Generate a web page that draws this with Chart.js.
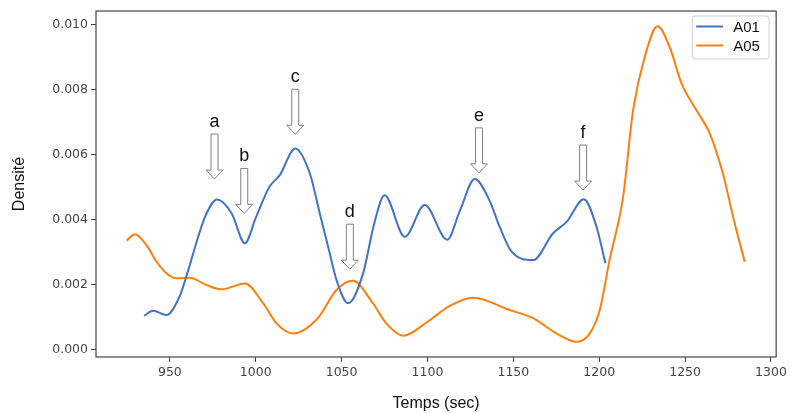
<!DOCTYPE html>
<html>
<head>
<meta charset="utf-8">
<script src="https://cdn.jsdelivr.net/npm/chart.js@4"></script>
<style>
  html, body { margin: 0; padding: 0; background: #fff; }
  #wrap { width: 790px; height: 413px; }
</style>
</head>
<body>
<div id="wrap"><canvas id="chart"></canvas></div>
<script>
// density curves (time in sec, density)
const a01Time = [935, 940.3, 948, 955.8, 960.7, 966.5, 971, 977.5, 986, 993.7, 1000, 1008, 1014, 1023, 1031.5, 1037.3,
  1043.1, 1047, 1053.8, 1062.5, 1069, 1075, 1086.8, 1098.4, 1111.5, 1119, 1127.5, 1136, 1142, 1149, 1161.5, 1173, 1181,
  1191, 1198.4, 1203.6];
const a01Dens = [0.00103, 0.00119, 0.00106, 0.00165, 0.00244, 0.00347, 0.00415, 0.00462, 0.00419, 0.00327, 0.00405,
  0.00501, 0.00537, 0.00619, 0.00542, 0.00419, 0.00296, 0.00214, 0.00142, 0.00234, 0.00388, 0.00475, 0.00347, 0.00445,
  0.00338, 0.00429, 0.00525, 0.0046, 0.00378, 0.00301, 0.00275, 0.00357, 0.00393, 0.00463, 0.00378, 0.00265];

const a05Time = [924.8, 929.6, 936.4, 942.3, 948.1, 953.9, 961.6, 971.4, 980.1, 993.7, 1004.3, 1012.1, 1021.8, 1036,
  1047, 1056.6, 1068.2, 1076, 1086, 1100, 1113, 1126.5, 1147.9, 1161.5, 1175, 1186.7, 1194.5, 1200.3, 1206, 1213.9,
  1219.7, 1226.5, 1233.9, 1241, 1247.9, 1256.6, 1264.3, 1272, 1277.9, 1284.7];
const a05Dens = [0.00335, 0.00355, 0.00321, 0.0027, 0.00234, 0.00219, 0.00221, 0.00198, 0.00185, 0.00203, 0.00142,
  0.0008, 0.00049, 0.00095, 0.00183, 0.00211, 0.00142, 0.0008, 0.00042, 0.00085, 0.00134, 0.00159, 0.00121, 0.00096,
  0.00049, 0.00023, 0.00049, 0.00121, 0.00275, 0.0047, 0.00737, 0.00902, 0.00996, 0.00932, 0.0082, 0.00737, 0.00666,
  0.00542, 0.00409, 0.0027];

const xTicks = [950, 1000, 1050, 1100, 1150, 1200, 1250, 1300];
const yTicks = [0, 0.002, 0.004, 0.006, 0.008, 0.010];

// arrow annotations: letter, time, density at arrow tip
const noteLabels = ['a', 'b', 'c', 'd', 'e', 'f'];
const noteTime = [976, 993.3, 1023, 1054.8, 1130, 1190.6];
const noteDens = [0.00525, 0.00419, 0.00663, 0.00247, 0.00544, 0.00491];

const pts = (xs, ys) => xs.map((x, i) => ({ x: x, y: ys[i] }));

// frame, hollow arrows and legend box
const extras = {
  id: 'extras',
  afterDatasetsDraw(chart) {
    const { ctx, chartArea: ca, scales } = chart;
    ctx.save();
    ctx.strokeStyle = '#444';
    ctx.lineWidth = 1.2;
    ctx.strokeRect(ca.left, ca.top, ca.right - ca.left, ca.bottom - ca.top);

    noteLabels.forEach((lab, i) => {
      const x = scales.x.getPixelForValue(noteTime[i]);
      const tip = scales.y.getPixelForValue(noteDens[i]);
      const top = tip - 45, headY = tip - 9;
      ctx.beginPath();
      ctx.moveTo(x - 3.5, top);
      ctx.lineTo(x + 3.5, top);
      ctx.lineTo(x + 3.5, headY);
      ctx.lineTo(x + 8.5, headY);
      ctx.lineTo(x, tip);
      ctx.lineTo(x - 8.5, headY);
      ctx.lineTo(x - 3.5, headY);
      ctx.closePath();
      ctx.fillStyle = '#fff';
      ctx.fill();
      ctx.strokeStyle = '#808080';
      ctx.lineWidth = 1;
      ctx.stroke();
      ctx.fillStyle = '#111';
      ctx.font = '18px "Liberation Sans", Arial, sans-serif';
      ctx.textAlign = 'center';
      ctx.textBaseline = 'alphabetic';
      ctx.fillText(lab, x, top - 7);
    });

    // legend
    const lx = ca.right - 84, ly = ca.top + 5;
    ctx.beginPath();
    ctx.roundRect(lx, ly, 77, 43, 3);
    ctx.fillStyle = 'rgba(255,255,255,0.85)';
    ctx.fill();
    ctx.strokeStyle = '#d0d0d0';
    ctx.lineWidth = 1;
    ctx.stroke();
    chart.data.datasets.forEach((ds, i) => {
      const y = ly + 10.5 + i * 19;
      ctx.beginPath();
      ctx.moveTo(lx + 4, y);
      ctx.lineTo(lx + 31, y);
      ctx.strokeStyle = ds.borderColor;
      ctx.lineWidth = 2;
      ctx.stroke();
      ctx.fillStyle = '#111';
      ctx.font = '15px "Liberation Sans", Arial, sans-serif';
      ctx.textAlign = 'left';
      ctx.textBaseline = 'middle';
      ctx.fillText(ds.label, lx + 41, y + 1);
    });
    ctx.restore();
  }
};

new Chart(document.getElementById('chart'), {
  type: 'line',
  data: {
    datasets: [
      {
        label: 'A01',
        data: pts(a01Time, a01Dens),
        borderColor: '#4472c4',
        borderWidth: 2,
        pointRadius: 0,
        fill: false,
        cubicInterpolationMode: 'monotone'
      },
      {
        label: 'A05',
        data: pts(a05Time, a05Dens),
        borderColor: '#ff7f0e',
        borderWidth: 2,
        pointRadius: 0,
        fill: false,
        cubicInterpolationMode: 'monotone'
      }
    ]
  },
  options: {
    responsive: true,
    maintainAspectRatio: false,
    animation: false,
    layout: { padding: { top: 11, right: 13, left: 0, bottom: 0 } },
    plugins: { legend: { display: false }, tooltip: { enabled: false } },
    scales: {
      x: {
        type: 'linear',
        min: 907,
        max: 1303,
        afterBuildTicks: s => { s.ticks = xTicks.map(v => ({ value: v })); },
        afterFit: s => { s.height = 56; },
        ticks: { color: '#444', font: { family: 'DejaVu Sans', size: 12.5 }, padding: 3, maxRotation: 0,
          callback: v => String(v) },
        grid: { drawOnChartArea: false, tickLength: 5, color: '#444' },
        border: { display: false },
        title: {
          display: true,
          text: 'Temps (sec)',
          color: '#111',
          font: { family: 'Liberation Sans', size: 16 },
          padding: { top: 0, bottom: 0 }
        }
      },
      y: {
        min: -0.000237,
        max: 0.01043,
        afterBuildTicks: s => { s.ticks = yTicks.map(v => ({ value: v })); },
        afterFit: s => { s.width = 96; },
        ticks: { color: '#444', font: { family: 'DejaVu Sans', size: 12.5 }, padding: 3, callback: v => v.toFixed(3) },
        grid: { drawOnChartArea: false, tickLength: 5, color: '#444' },
        border: { display: false },
        title: {
          display: true,
          text: 'Densité',
          color: '#111',
          font: { family: 'Liberation Sans', size: 16 },
          padding: { top: 10, bottom: 0 }
        }
      }
    }
  },
  plugins: [extras]
});
</script>
</body>
</html>
